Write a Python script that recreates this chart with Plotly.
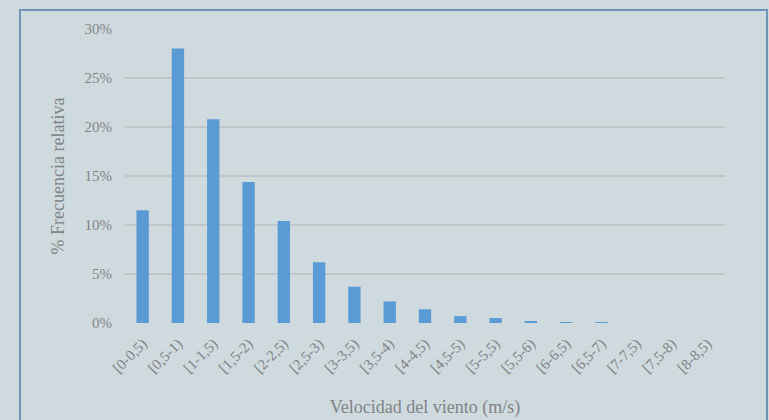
import plotly.graph_objects as go

categories = ["[0-0,5)", "[0,5-1)", "[1-1,5)", "[1,5-2)", "[2-2,5)", "[2,5-3)", "[3-3,5)",
              "[3,5-4)", "[4-4,5)", "[4,5-5)", "[5-5,5)", "[5,5-6)", "[6-6,5)", "[6,5-7)",
              "[7-7,5)", "[7,5-8)", "[8-8,5)"]
values = [11.5, 28.0, 20.8, 14.4, 10.4, 6.2, 3.7, 2.2, 1.4, 0.7, 0.5, 0.15, 0.1, 0.03, 0.0, 0.0, 0.0]
y_ticks = [0, 5, 10, 15, 20, 25, 30]
y_tick_labels = ["0%", "5%", "10%", "15%", "20%", "25%", "30%"]

text_color = "#808386"
font_family = "Liberation Serif, Times New Roman, serif"

fig = go.Figure(go.Bar(
    x=categories, y=values,
    marker=dict(color="#5b9bd5", line=dict(width=0)),
))

fig.update_layout(
    width=769, height=420,
    margin=dict(l=125, r=44, t=29, b=97),
    paper_bgcolor="#cfdadf", plot_bgcolor="#cfdadf",
    bargap=0.65,
    showlegend=False,
    font=dict(family=font_family, color=text_color, size=15),
    xaxis=dict(
        tickangle=-45, tickfont=dict(size=15, color=text_color), automargin=False,
        showgrid=False, zeroline=False, showline=False, ticks="", ticklabelstandoff=8,
        title=dict(text="Velocidad del viento (m/s)", font=dict(size=18, color=text_color), standoff=24),
    ),
    yaxis=dict(
        range=[0, 30], tickvals=y_ticks, ticktext=y_tick_labels, automargin=False,
        tickfont=dict(size=15, color=text_color),
        showgrid=True, gridcolor="#bfc5c8", gridwidth=2,
        zeroline=False, showline=False, ticks="", ticklabelstandoff=12,
        title=dict(text="% Frecuencia relativa", font=dict(size=18, color=text_color), standoff=15),
    ),
    shapes=[dict(type="rect", xref="paper", yref="paper",
                 x0=-0.175, x1=1.07, y0=-0.5, y1=1.065,
                 line=dict(color="#6f94b8", width=2), layer="below")],
)

fig.write_html("out.html")
